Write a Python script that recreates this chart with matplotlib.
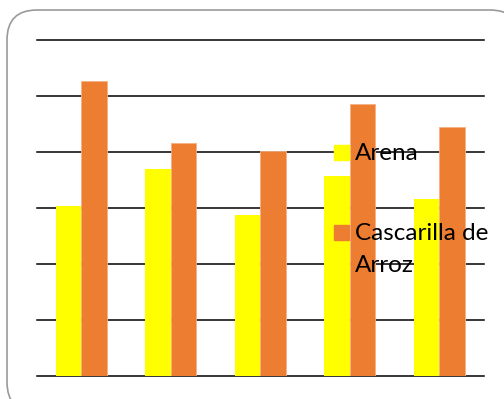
import numpy as np
import matplotlib
matplotlib.use("Agg")
import matplotlib.pyplot as plt
from matplotlib.patches import FancyBboxPatch, Rectangle

# values (gridline = 1 unit)
categories = ["1", "2", "3", "4", "5"]
arena = [3.04, 3.70, 2.88, 3.58, 3.16]
cascarilla = [5.26, 4.16, 4.02, 4.86, 4.45]
series_names = ["Arena", "Cascarilla de\nArroz"]
colors = ["#FFFF00", "#ED7D31"]

fig = plt.figure(figsize=(5.04, 3.99), dpi=100)

# rounded frame around the chart (in inches, runs off right/bottom edge)
frame = FancyBboxPatch((0.07, -0.13), 5.13, 4.02,
                       boxstyle="round,pad=0,rounding_size=0.3",
                       transform=fig.dpi_scale_trans, facecolor="white",
                       edgecolor="#9a9a9a", linewidth=1.2, zorder=-1)
fig.patches.append(frame)

ax = fig.add_axes([0.0728, 0.0576, 0.8872, 0.8421])
ax.set_facecolor("none")
ax.set_zorder(1)

x = np.arange(len(categories))
w = 0.285
ax.bar(x - w / 2, arena, w, color=colors[0], zorder=3)
ax.bar(x + w / 2, cascarilla, w, color=colors[1], edgecolor="#f4b183",
       linewidth=0.6, zorder=3)

ax.set_xlim(-0.5, len(categories) - 0.5)
ax.set_ylim(0, 6)
ax.set_yticks(range(7))
ax.grid(axis="y", color="black", linewidth=1.1)
ax.set_axisbelow(True)
for gl in ax.get_ygridlines():
    gl.set_clip_on(False)
ax.set_xticks([])
ax.tick_params(left=False, labelleft=False)
for s in ax.spines.values():
    s.set_visible(False)

# legend, drawn by hand over the bars
font = dict(family=["Lato", "DejaVu Sans"], fontsize=17.5, color="black")
ax.add_artist(Rectangle((334 / 504, 1 - 160 / 399), 15 / 504, 15 / 399,
                        transform=fig.transFigure, color=colors[0], zorder=5))
ax.text(355 / 504, 1 - 160 / 399, series_names[0], va="baseline", zorder=6,
        transform=fig.transFigure, **font)
ax.add_artist(Rectangle((334 / 504, 1 - 240 / 399), 15 / 504, 15 / 399,
                        transform=fig.transFigure, color=colors[1], zorder=5))
ax.text(355 / 504, 1 - 272 / 399, series_names[1], va="baseline", zorder=6,
        transform=fig.transFigure, linespacing=1.65, **font)

fig.savefig("out.png", dpi=100)
